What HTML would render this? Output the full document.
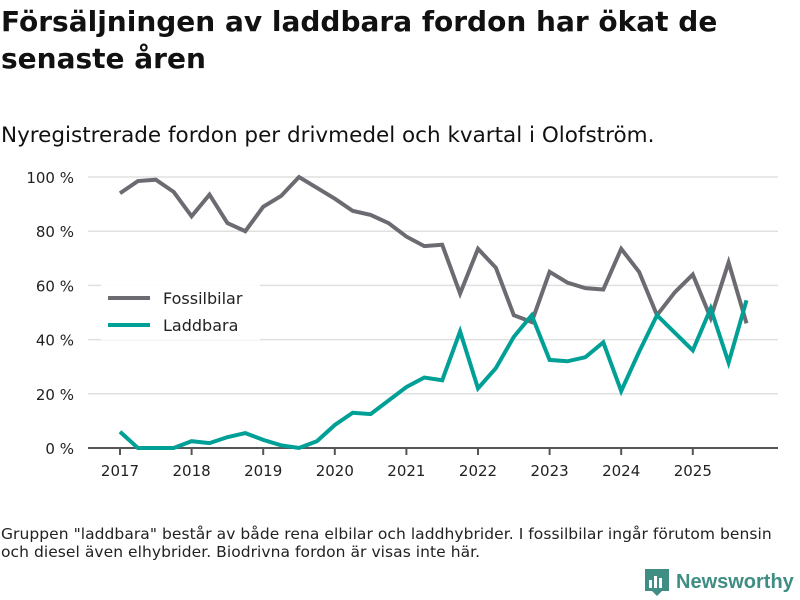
<!DOCTYPE html>
<html><head><meta charset="utf-8"><style>
body{margin:0;width:800px;height:600px;background:#fff;font-family:"DejaVu Sans","Liberation Sans",sans-serif;color:#111;position:relative;overflow:hidden}
#title{position:absolute;left:1px;top:3px;font-size:28px;font-weight:bold;line-height:37px;width:790px;white-space:nowrap}
#subtitle{position:absolute;left:1px;top:123px;font-size:21.5px}
#note{position:absolute;left:1px;top:525px;font-size:15.5px;line-height:18px;color:#222;white-space:nowrap;letter-spacing:0.05px}
#logo{position:absolute;left:644px;top:568px;display:flex;align-items:center;font-family:"Liberation Sans",sans-serif;font-size:20px;font-weight:bold;color:#3f8d83}
</style></head><body>
<div id="title">Försäljningen av laddbara fordon har ökat de<br>senaste åren</div>
<div id="subtitle">Nyregistrerade fordon per drivmedel och kvartal i Olofström.</div>
<svg id="chart" width="800" height="600" style="position:absolute;left:0;top:0" font-family="DejaVu Sans, Liberation Sans, sans-serif"></svg>
<div id="note">Gruppen "laddbara" består av både rena elbilar och laddhybrider. I fossilbilar ingår förutom bensin<br>och diesel även elhybrider. Biodrivna fordon är visas inte här.</div>
<div id="logo"><svg width="26" height="28" style="margin-right:6px"><rect x="1" y="1" width="24" height="22" fill="#3f8d83"/><polygon points="8,23 13,28 18,23" fill="#3f8d83"/><rect x="5" y="12" width="3" height="8" fill="#fff"/><rect x="10" y="8" width="3" height="12" fill="#fff"/><rect x="15" y="10" width="3" height="10" fill="#fff"/></svg>Newsworthy</div>
<script>
const years=[2017,2018,2019,2020,2021,2022,2023,2024,2025];
const yTicks=[0,20,40,60,80,100];
const fossil=[94,98.5,99,94.5,85.5,93.5,83,80,89,93,100,96,92,87.5,86,83,78,74.5,75,57,73.5,66.5,49,46.5,65,61,59,58.5,73.5,65,49,57.5,64,48,68.5,46];
const laddbara=[6,0,0,0,2.5,1.8,4,5.5,3,1,0,2.5,8.5,13,12.5,17.5,22.5,26,25,43,22,29.5,41,49,32.5,32,33.5,39,21,35.5,49,42.5,36,51.5,31.5,54.5];
const NS='http://www.w3.org/2000/svg';
const svg=document.getElementById('chart');
const x=q=>120+q*71.6/4;
const y=v=>448-v*2.71;
function el(t,a){const e=document.createElementNS(NS,t);for(const k in a)e.setAttribute(k,a[k]);svg.appendChild(e);return e;}
yTicks.forEach(v=>{
 const g=el('line',{x1:88,x2:778,y1:y(v),y2:y(v),stroke:v?'#e0e0e0':'#555','stroke-width':v?1.5:2});
 
 
 const t=el('text',{x:74,y:y(v)+6,'text-anchor':'end','font-size':15,fill:'#222'});
 t.textContent=v+' %';
 
 
});
years.forEach((yr,i)=>{
 const tk=el('line',{x1:x(i*4),x2:x(i*4),y1:448,y2:455,stroke:'#555','stroke-width':2});
 
 
 const t=el('text',{x:x(i*4),y:476,'text-anchor':'middle','font-size':15,fill:'#222'});
 t.textContent=yr;
 
 
});
function line(data,color,name){
 const p=el('polyline',{points:data.map((v,i)=>x(i)+','+y(v)).join(' '),fill:'none',stroke:color,'stroke-width':4,'stroke-linejoin':'miter'});
 
 
}
line(fossil,'#6d6b72','fossilbilar-line');
line(laddbara,'#00a096','laddbara-line');
const lb=el('rect',{x:101,y:284,width:159,height:56,fill:'#fff','fill-opacity':0.9});


[['Fossilbilar','#6d6b72',298],['Laddbara','#00a096',325]].forEach(([n,c,yy])=>{
 const l=el('line',{x1:108,x2:150,y1:yy,y2:yy,stroke:c,'stroke-width':4});
 
 
 const t=el('text',{x:163,y:yy+6,'font-size':16,fill:'#222'});
 t.textContent=n;
 
 
});
</script>
</body></html>
